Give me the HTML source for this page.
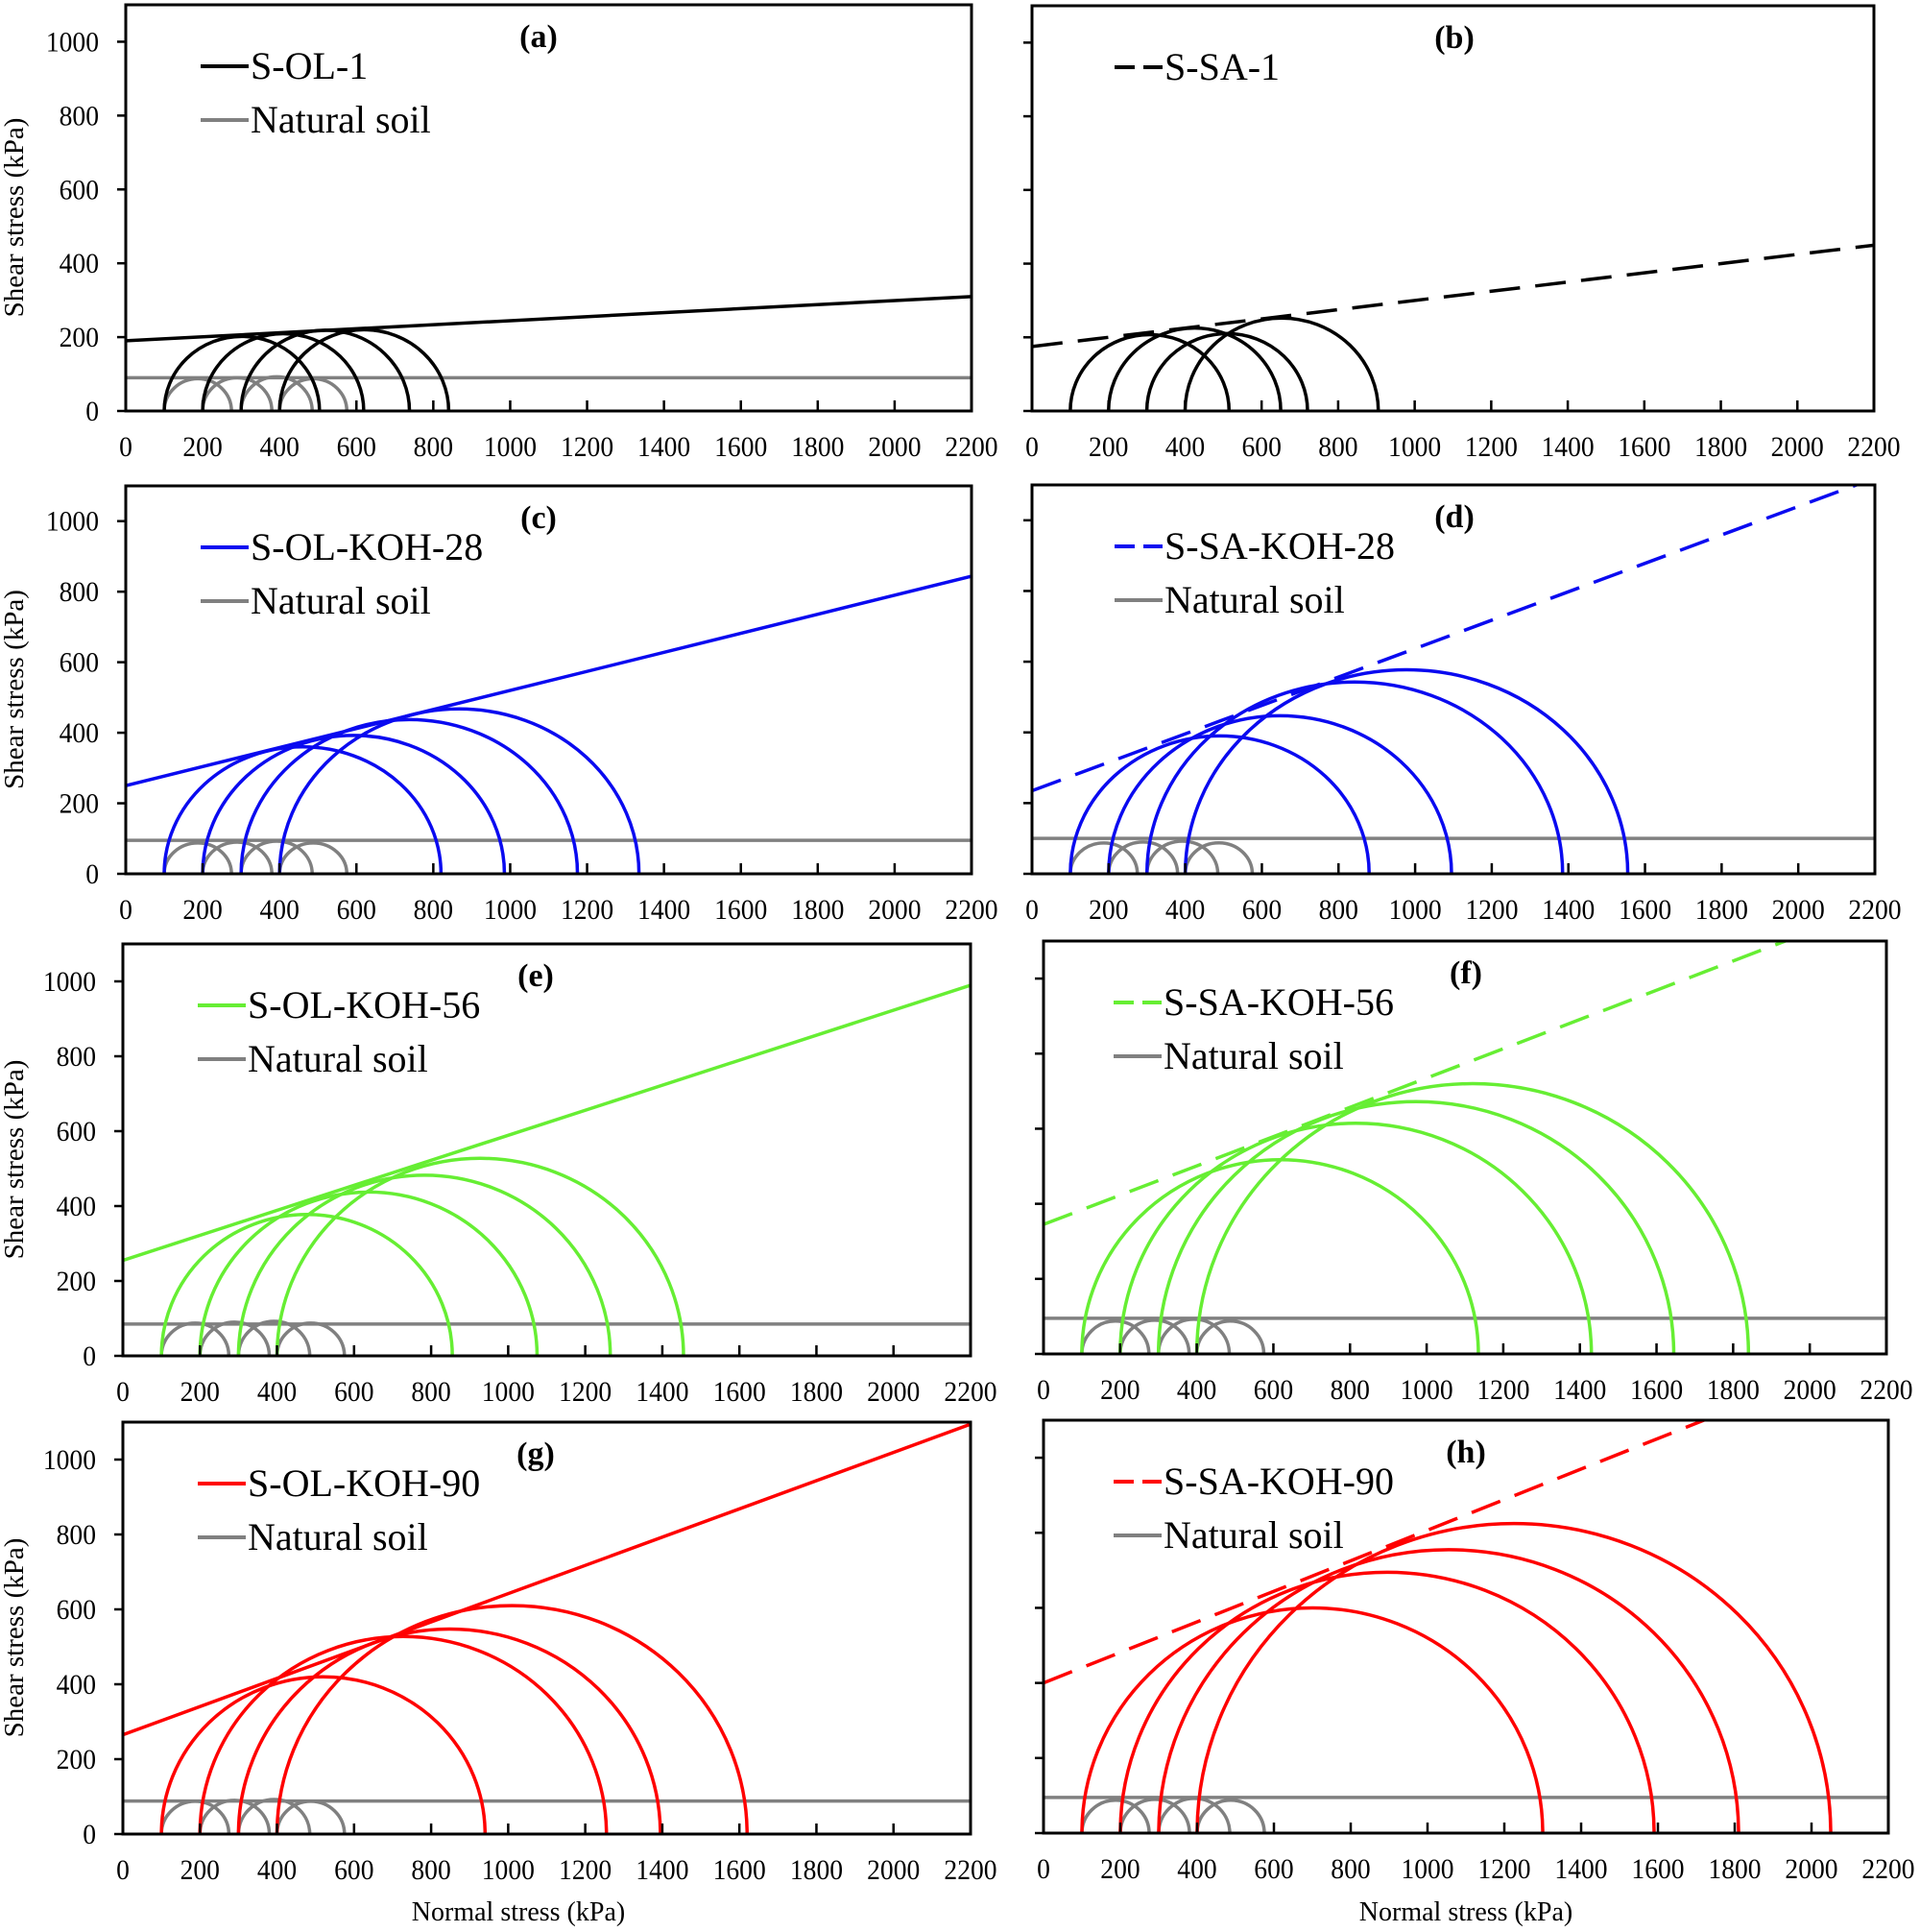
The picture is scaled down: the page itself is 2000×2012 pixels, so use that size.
<!DOCTYPE html>
<html><head><meta charset="utf-8">
<style>
html,body{margin:0;padding:0;background:#fff;}
svg{display:block;font-family:"Liberation Serif",serif;}
</style></head>
<body>
<svg id="fig" width="2000" height="2012" viewBox="0 0 2000 2012" xmlns="http://www.w3.org/2000/svg"></svg>
<script>
// ---- data ----
const panelLetters = ["(a)","(b)","(c)","(d)","(e)","(f)","(g)","(h)"];
const seriesNames = ["S-OL-1","S-SA-1","S-OL-KOH-28","S-SA-KOH-28","S-OL-KOH-56","S-SA-KOH-56","S-OL-KOH-90","S-SA-KOH-90"];
const seriesColors = ["#000000","#000000","#0a0af0","#0a0af0","#66ee33","#66ee33","#ff0000","#ff0000"];
const envelopeCohesion = [190,175,250,235,255,345,265,400];
const envelopeSlope = [0.0545,0.125,0.27,0.402,0.334,0.39,0.377,0.407];
const sigma3 = [100,200,300,400];
const sigma1A = [504,619,738,840];
const sigma1B = [515,650,720,905];
const sigma1C = [820,985,1175,1335];
const sigma1D = [880,1095,1385,1555];
const sigma1E = [855,1075,1265,1455];
const sigma1F = [1135,1430,1645,1840];
const sigma1G = [940,1255,1395,1620];
const sigma1H = [1300,1590,1810,2050];
const sigma1Sets = [sigma1A,sigma1B,sigma1C,sigma1D,sigma1E,sigma1F,sigma1G,sigma1H];
const naturalSigma1 = [275,380,485,575];
const naturalLevel = [90,null,95,100,85,95,88,95];
const xTicks = [0,200,400,600,800,1000,1200,1400,1600,1800,2000,2200];
const yTicks = [0,200,400,600,800,1000];

// ---- layout ----
const boxes = [
 {l:131,r:1012,t:5,b:428},{l:1075,r:1952,t:6,b:428},
 {l:131,r:1012,t:506,b:910},{l:1075,r:1953,t:505,b:910},
 {l:128,r:1011,t:983,b:1412},{l:1087,r:1965,t:980,b:1410},
 {l:128,r:1011,t:1481,b:1910},{l:1087,r:1967,t:1479,b:1909}
];
const svg = document.getElementById('fig');
const NS = "http://www.w3.org/2000/svg";
function mk(tag, attrs, parent){
  const e = document.createElementNS(NS, tag);
  for (const k in attrs) e.setAttribute(k, attrs[k]);
  (parent||svg).appendChild(e);
  return e;
}
boxes.forEach((bx, i) => {
  const left = i % 2 === 0;
  const g = mk('g', {});
  
  
  const sx = v => bx.l + v / 2200 * (bx.r - bx.l);
  const sy = v => bx.b - v / 1100 * (bx.b - bx.t);
  const clipId = 'clip' + i;
  const cp = mk('clipPath', {id: clipId}, g);
  mk('rect', {x: bx.l, y: bx.t, width: bx.r - bx.l, height: bx.b - bx.t}, cp);
  const plot = mk('g', {'clip-path': 'url(#' + clipId + ')'}, g);
  if (naturalLevel[i] !== null) {
    sigma3.forEach((s3, k) => {
      const s1 = naturalSigma1[k];
      const rx = (sx(s1) - sx(s3)) / 2, r = (s1 - s3) / 2;
      const ry = sy(0) - sy(r);
      const p = mk('path', {d: `M${sx(s3)},${sy(0)} A${rx},${ry} 0 0 1 ${sx(s1)},${sy(0)}`, fill: 'none', stroke: '#808080', 'stroke-width': 3.5}, plot);
      
      
    });
    const nl = mk('line', {x1: sx(0), x2: sx(2200), y1: sy(naturalLevel[i]), y2: sy(naturalLevel[i]), stroke: '#808080', 'stroke-width': 3.5}, plot);
    
    
  }
  const col = seriesColors[i];
  sigma3.forEach((s3, k) => {
    const s1 = sigma1Sets[i][k];
    const r = (s1 - s3) / 2;
    const rx = (sx(s1) - sx(s3)) / 2, ry = sy(0) - sy(r);
    const p = mk('path', {d: `M${sx(s3)},${sy(0)} A${rx},${ry} 0 0 1 ${sx(s1)},${sy(0)}`, fill: 'none', stroke: col, 'stroke-width': 3.5}, plot);
    
    
  });
  const c = envelopeCohesion[i], m = envelopeSlope[i];
  const env = mk('line', {x1: sx(0), y1: sy(c), x2: sx(2200), y2: sy(c + m * 2200), stroke: col, 'stroke-width': 3.5}, plot);
  if (!left) env.setAttribute('stroke-dasharray', '32,16');
  
  
  mk('rect', {x: bx.l, y: bx.t, width: bx.r - bx.l, height: bx.b - bx.t, fill: 'none', stroke: '#000', 'stroke-width': 3}, g);
  xTicks.forEach(v => {
    mk('line', {x1: sx(v), x2: sx(v), y1: bx.b, y2: bx.b - 11, stroke: '#000', 'stroke-width': 2.5}, g);
    const t = mk('text', {x: sx(v)/0.92, y: bx.b + 47, 'font-size': 30, 'text-anchor': 'middle', fill: '#000', transform: 'scale(0.92,1)'}, g);
    t.textContent = v;
    
    
  });
  yTicks.forEach(v => {
    mk('line', {x1: bx.l, x2: bx.l - 9, y1: sy(v), y2: sy(v), stroke: '#000', 'stroke-width': 2.5}, g);
    if (left) {
      const t = mk('text', {x: (bx.l - 28)/0.92, y: sy(v) + 10, 'font-size': 30, 'text-anchor': 'end', fill: '#000', transform: 'scale(0.92,1)'}, g);
      t.textContent = v;
      
      
    }
  });
  if (left) {
    const cy = (bx.t + bx.b) / 2 + 10;
    const yt = mk('text', {x: 24, y: cy, 'font-size': 29, 'text-anchor': 'middle', transform: `rotate(-90 24 ${cy})`, fill: '#000'}, g);
    yt.textContent = 'Shear stress (kPa)';
    
    
  }
  const pl = mk('text', {x: left ? bx.l + 430 : bx.l + 440, y: bx.t + 44, 'font-size': 34, 'font-weight': 'bold', 'text-anchor': 'middle', fill: '#000'}, g);
  pl.textContent = panelLetters[i];
  
  
  const lx = left ? bx.l + 78 : (i === 1 || i === 3 ? bx.l + 86 : bx.l + 73);
  const ly1 = bx.t + 64, ly2 = bx.t + 120;
  const l1 = mk('line', {x1: lx, x2: lx + 50, y1: ly1, y2: ly1, stroke: col, 'stroke-width': 4}, g);
  if (!left) l1.setAttribute('stroke-dasharray', '21,9');
  const t1 = mk('text', {x: lx + 52, y: ly1 + 13, 'font-size': 40, fill: '#000'}, g);
  t1.textContent = seriesNames[i];
  
  
  if (naturalLevel[i] !== null) {
    mk('line', {x1: lx, x2: lx + 50, y1: ly2, y2: ly2, stroke: '#808080', 'stroke-width': 4}, g);
    const t2 = mk('text', {x: lx + 52, y: ly2 + 13, 'font-size': 40, fill: '#000'}, g);
    t2.textContent = 'Natural soil';
    
    
  }
});
const xa1 = mk('text', {x: 540, y: 2000, 'font-size': 28, 'text-anchor': 'middle', fill: '#000'});
xa1.textContent = 'Normal stress (kPa)';


const xa2 = mk('text', {x: 1527, y: 2000, 'font-size': 28, 'text-anchor': 'middle', fill: '#000'});
xa2.textContent = 'Normal stress (kPa)';


</script>
</body></html>
